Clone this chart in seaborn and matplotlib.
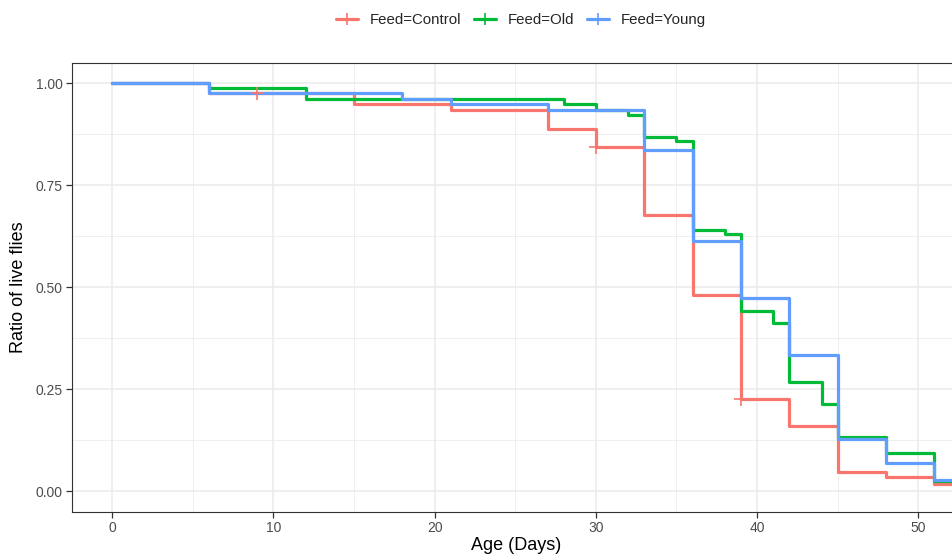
import numpy as np
import pandas as pd
import matplotlib
matplotlib.use("Agg")
import matplotlib.pyplot as plt
from matplotlib.lines import Line2D
from matplotlib.ticker import MultipleLocator
import seaborn as sns

# Kaplan-Meier steps (days, ratio alive)
control_days = [0, 6, 15, 21, 27, 30, 33, 36, 39, 42, 45, 48, 51, 56]
control_surv = [1.0, 0.975, 0.949, 0.933, 0.8875, 0.843, 0.677, 0.482, 0.225, 0.161, 0.047, 0.034, 0.017, 0.017]

old_days = [0, 6, 12, 28, 30, 32, 33, 35, 36, 38, 39, 41, 42, 44, 45, 48, 51, 56]
old_surv = [1.0, 0.988, 0.961, 0.948, 0.935, 0.922, 0.867, 0.857, 0.640, 0.630, 0.441, 0.412, 0.267, 0.214, 0.134, 0.093, 0.025, 0.025]

young_days = [0, 6, 18, 21, 27, 33, 36, 39, 42, 45, 48, 51, 56]
young_surv = [1.0, 0.975, 0.961, 0.950, 0.935, 0.836, 0.613, 0.4735, 0.335, 0.127, 0.070, 0.028, 0.028]

# censored observations (Control only visible)
cens_days = [9, 30, 39]
cens_surv = [0.975, 0.843, 0.225]

groups = ["Feed=Control", "Feed=Old", "Feed=Young"]
colors = {"Feed=Control": "#F8766D", "Feed=Old": "#00BA38", "Feed=Young": "#619CFF"}

df = pd.concat([
    pd.DataFrame({"Age": control_days, "Surv": control_surv, "Feed": groups[0]}),
    pd.DataFrame({"Age": old_days, "Surv": old_surv, "Feed": groups[1]}),
    pd.DataFrame({"Age": young_days, "Surv": young_surv, "Feed": groups[2]}),
], ignore_index=True)
cens = pd.DataFrame({"Age": cens_days, "Surv": cens_surv, "Feed": groups[0]})

sns.set_style("white")
plt.rcParams["font.family"] = ["Liberation Sans", "DejaVu Sans"]

fig = plt.figure(figsize=(9.52, 5.55), dpi=100)
# panel in pixel terms: left 72, top 62.7, bottom 511.7; right runs past the edge
px_per_day = 16.12
x0, x1 = -2.48, 56.0
left = 72.3 / 952
width = (x1 - x0) * px_per_day / 952
bottom = (555 - 511.7) / 555
height = 449.0 / 555
ax = fig.add_axes([left, bottom, width, height])

sns.lineplot(data=df, x="Age", y="Surv", hue="Feed", hue_order=groups,
             palette=colors, drawstyle="steps-post", estimator=None,
             sort=False, linewidth=2.3, legend=False, ax=ax, zorder=3)
sns.scatterplot(data=cens, x="Age", y="Surv", hue="Feed", palette=colors,
                marker="+", s=90, linewidth=1.2, legend=False, ax=ax, zorder=4)

ax.set_xlim(x0, x1)
ax.set_ylim(-0.05, 1.05)
ax.xaxis.set_major_locator(MultipleLocator(10))
ax.xaxis.set_minor_locator(MultipleLocator(5))
ax.set_yticks([0, 0.25, 0.5, 0.75, 1.0])
ax.set_yticklabels(["0.00", "0.25", "0.50", "0.75", "1.00"])
ax.yaxis.set_minor_locator(MultipleLocator(0.125))
ax.grid(which="major", color="#EBEBEB", linewidth=1.1, zorder=0)
ax.grid(which="minor", color="#EBEBEB", linewidth=0.55, zorder=0)
ax.set_axisbelow(True)
for s in ax.spines.values():
    s.set_color("#333333")
    s.set_linewidth(0.8)
ax.tick_params(which="major", bottom=True, left=True, length=4, width=0.9,
               color="#333333", labelcolor="#4D4D4D", labelsize=10, pad=3)
ax.tick_params(which="minor", bottom=False, left=False, length=0)
ax.set_xlabel("Age (Days)", fontsize=13, color="black", labelpad=1)
ax.xaxis.label.set_x((516 - 72.3) / (width * 952))
ax.set_ylabel("Ratio of live flies", fontsize=13, color="black", labelpad=6)

handles = [Line2D([0], [0], color=colors[g], lw=2.3, marker="+", markersize=9,
                  markeredgewidth=1.2) for g in groups]
fig.legend(handles, groups, loc="center", bbox_to_anchor=(521 / 952, 1 - 20 / 555),
           ncol=3, frameon=False, fontsize=10.8, handlelength=1.5,
           columnspacing=0.8, handletextpad=0.8)

fig.savefig("out.png", dpi=100)
